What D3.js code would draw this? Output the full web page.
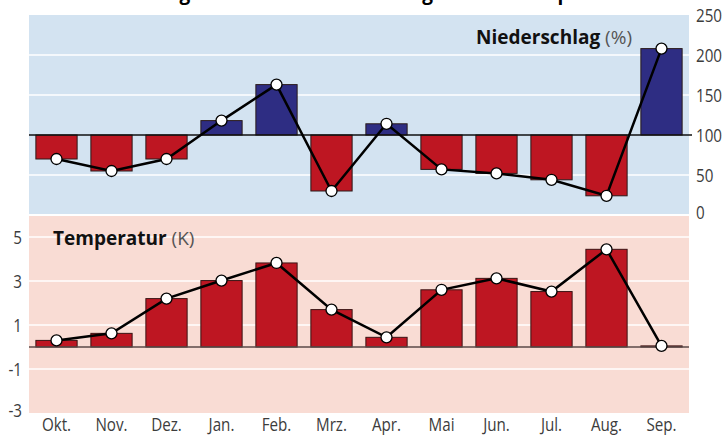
<!DOCTYPE html>
<html>
<head>
<meta charset="utf-8">
<script src="https://cdn.jsdelivr.net/npm/d3@7"></script>
<style>
  body { margin: 0; background: #fff; }
  .tick text { font-family: "Open Sans", sans-serif; font-size: 19px; fill: #3c3c3c; }
  .head { font-family: "Open Sans", sans-serif; font-size: 19px; }
</style>
</head>
<body>
<div class="chart"></div>
<script>
// Monatliche Abweichungen: Niederschlag (% vom Mittel) und Temperatur (K)
var months = ["Okt.", "Nov.", "Dez.", "Jan.", "Feb.", "Mrz.", "Apr.", "Mai", "Jun.", "Jul.", "Aug.", "Sep."];
var niederschlag = [70, 55, 70, 118, 163, 30, 114, 57, 52, 44, 24, 208];
var temperatur = [0.3, 0.62, 2.2, 3.02, 3.82, 1.7, 0.44, 2.6, 3.12, 2.52, 4.44, 0.05];
var precipTicks = [0, 50, 100, 150, 200, 250];
var tempTicks = [-3, -1, 1, 3, 5];
var precipGrid = [50, 150, 200];
var tempGrid = [-1, 1, 3, 5];

var svgWidth = 723;
var svgHeight = 437;
var left = 29, right = 689;
var squeeze = "scale(0.8,1)"; // narrow look of the original lettering

var svg = d3.select(".chart")
  .append("svg")
  .attr("width", svgWidth)
  .attr("height", svgHeight);

var xScale = d3.scaleBand()
  .domain(months)
  .range([left, right])
  .paddingInner(0.25)
  .paddingOuter(0.125);

var yPrecip = d3.scaleLinear().domain([0, 250]).range([215, 15]);
var yTemp = d3.scaleLinear().domain([-3, 6]).range([413, 215]);

// panel backgrounds
svg.append("rect")
  .attr("x", left).attr("y", yPrecip(250))
  .attr("width", right - left).attr("height", yPrecip(0) - yPrecip(250) - 1)
  .attr("fill", "#d3e3f1");
svg.append("rect")
  .attr("x", left).attr("y", yTemp(6) + 1)
  .attr("width", right - left).attr("height", yTemp(-3) - yTemp(6) - 1)
  .attr("fill", "#f9dcd4");

// white grid lines
svg.selectAll(".pgrid").data(precipGrid).enter().append("line")
  .attr("x1", left).attr("x2", right)
  .attr("y1", function(d) { return yPrecip(d); })
  .attr("y2", function(d) { return yPrecip(d); })
  .attr("stroke", "#fff").attr("stroke-width", 1.5);
svg.selectAll(".tgrid").data(tempGrid).enter().append("line")
  .attr("x1", left).attr("x2", right)
  .attr("y1", function(d) { return yTemp(d); })
  .attr("y2", function(d) { return yTemp(d); })
  .attr("stroke", "#fff").attr("stroke-width", 1.5);

// title (cut off at the top in the original)
svg.append("text")
  .attr("class", "head")
  .attr("x", 352).attr("y", 0)
  .attr("text-anchor", "middle")
  .style("font-weight", "bold")
  .text("Abweichung vom Mittel: Niederschlag und der Temperatur");

// precipitation bars, from the 100 % line
svg.selectAll(".pbar").data(niederschlag).enter().append("rect")
  .attr("x", function(d, i) { return xScale(months[i]); })
  .attr("width", xScale.bandwidth())
  .attr("y", function(d) { return yPrecip(Math.max(d, 100)); })
  .attr("height", function(d) { return Math.abs(yPrecip(d) - yPrecip(100)); })
  .attr("fill", function(d) { return d >= 100 ? "#2e2d83" : "#be1622"; })
  .attr("stroke", "#2a1a1a").attr("stroke-width", 1);

// temperature bars, from zero
svg.selectAll(".tbar").data(temperatur).enter().append("rect")
  .attr("x", function(d, i) { return xScale(months[i]); })
  .attr("width", xScale.bandwidth())
  .attr("y", function(d) { return yTemp(Math.max(d, 0)); })
  .attr("height", function(d) { return Math.abs(yTemp(d) - yTemp(0)); })
  .attr("fill", function(d) { return d >= 0 ? "#be1622" : "#2e2d83"; })
  .attr("stroke", "#3a1414").attr("stroke-width", 1);

// baselines
svg.append("line")
  .attr("x1", left).attr("x2", right + 3)
  .attr("y1", yPrecip(100)).attr("y2", yPrecip(100))
  .attr("stroke", "#111").attr("stroke-width", 1.5);
svg.append("line")
  .attr("x1", left).attr("x2", right)
  .attr("y1", yTemp(0)).attr("y2", yTemp(0))
  .attr("stroke", "#5a4a48").attr("stroke-width", 1.5);

// lines with dots
function cx(d, i) { return xScale(months[i]) + xScale.bandwidth() / 2; }

var precipLine = d3.line().x(cx).y(function(d) { return yPrecip(d); });
var tempLine = d3.line().x(cx).y(function(d) { return yTemp(d); });

svg.append("path").datum(niederschlag)
  .attr("d", precipLine)
  .attr("fill", "none").attr("stroke", "#000").attr("stroke-width", 2.5);
svg.append("path").datum(temperatur)
  .attr("d", tempLine)
  .attr("fill", "none").attr("stroke", "#000").attr("stroke-width", 2.5);

svg.selectAll(".pdot").data(niederschlag).enter().append("circle")
  .attr("cx", cx).attr("cy", function(d) { return yPrecip(d); })
  .attr("r", 5.5).attr("fill", "#fff").attr("stroke", "#000").attr("stroke-width", 1.3);
svg.selectAll(".tdot").data(temperatur).enter().append("circle")
  .attr("cx", cx).attr("cy", function(d) { return yTemp(d); })
  .attr("r", 5.5).attr("fill", "#fff").attr("stroke", "#000").attr("stroke-width", 1.3);

// axes
var plain = function(d) { return String(d); };
var rightAxis = d3.axisRight(yPrecip).tickValues(precipTicks).tickFormat(plain).tickSize(0).tickPadding(0);
var leftAxis = d3.axisLeft(yTemp).tickValues(tempTicks).tickFormat(plain).tickSize(0).tickPadding(0);
var bottomAxis = d3.axisBottom(xScale).tickSize(0).tickPadding(0);

var ra = svg.append("g").attr("transform", "translate(696,0)").call(rightAxis);
var la = svg.append("g").attr("transform", "translate(22,0)").call(leftAxis);
var ba = svg.append("g").attr("transform", "translate(0,415)").call(bottomAxis);
ra.select(".domain").remove();
la.select(".domain").remove();
ba.select(".domain").remove();
svg.selectAll(".tick text").attr("transform", squeeze);
ra.selectAll(".tick text").attr("dy", "0.33em");
ra.selectAll(".tick").filter(function(d) { return d === 0; }).select("text").attr("dy", "0.2em");
la.selectAll(".tick").filter(function(d) { return d === -3; }).select("text").attr("dy", "0.2em");
ba.selectAll(".tick text").attr("dy", "0.85em");

// panel headers
var h1 = svg.append("text").attr("class", "head")
  .attr("x", 632).attr("y", 44).attr("text-anchor", "end");
h1.append("tspan").style("font-weight", "bold").attr("fill", "#111").text("Niederschlag");
h1.append("tspan").attr("fill", "#555").text(" (%)");

var h2 = svg.append("text").attr("class", "head")
  .attr("x", 53).attr("y", 245);
h2.append("tspan").style("font-weight", "bold").attr("fill", "#111").text("Temperatur");
h2.append("tspan").attr("fill", "#555").text(" (K)");
</script>
</body>
</html>
